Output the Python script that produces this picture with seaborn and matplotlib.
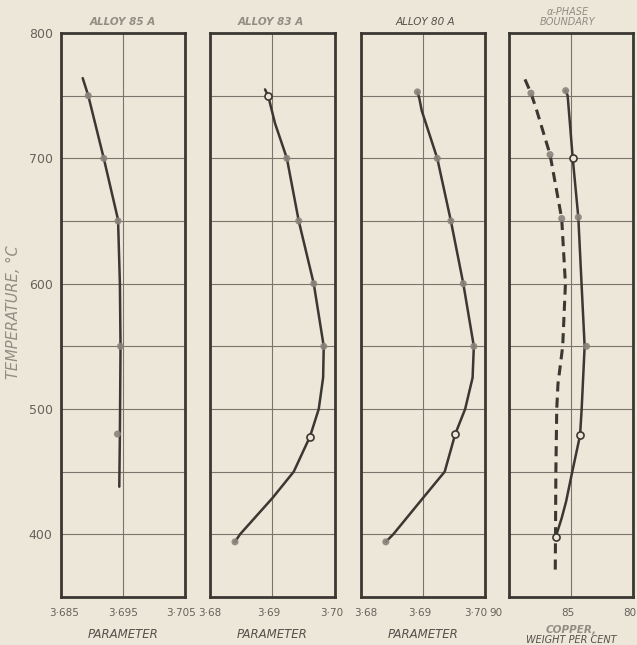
import matplotlib
matplotlib.use("Agg")
import matplotlib.pyplot as plt
import seaborn as sns
import pandas as pd
from matplotlib.transforms import ScaledTranslation

# ---------------- data ----------------
# Alloy 85 A : temperature (deg C) vs lattice parameter
a85_temp = [764, 750, 700, 651, 600, 550, 480, 438]
a85_par = [3.6885, 3.6894, 3.6919, 3.6942, 3.6945, 3.6946, 3.6945, 3.6944]
a85_pt_temp = [750, 700, 650, 550, 480]
a85_pt_par = [3.6894, 3.6919, 3.6942, 3.6946, 3.6941]

# Alloy 83 A
a83_temp = [755, 750, 728, 700, 650, 600, 550, 525, 500, 478, 450, 429, 400, 394]
a83_par = [3.6888, 3.6893, 3.6904, 3.6923, 3.6942, 3.6966, 3.6982, 3.6981,
           3.6974, 3.6960, 3.6934, 3.6900, 3.6848, 3.6840]
a83_pt_temp = [700, 650, 600, 550, 394]
a83_pt_par = [3.6923, 3.6942, 3.6966, 3.6982, 3.6840]
a83_open_temp = [750, 478]
a83_open_par = [3.6893, 3.6960]

# Alloy 80 A
a80_temp = [753, 748, 738, 700, 650, 600, 550, 525, 500, 480, 450, 429, 400, 394]
a80_par = [3.6891, 3.6894, 3.6898, 3.6923, 3.6945, 3.6965, 3.6982, 3.6980,
           3.6968, 3.6952, 3.6935, 3.6900, 3.6852, 3.6840]
a80_pt_temp = [753, 700, 650, 600, 550, 394]
a80_pt_par = [3.6891, 3.6923, 3.6945, 3.6965, 3.6982, 3.6840]
a80_open_temp = [480]
a80_open_par = [3.6952]

# alpha-phase boundary : copper weight per cent
bnd_solid_temp = [754, 750, 700, 653, 600, 550, 500, 479, 448, 426, 413, 398]
bnd_solid_cu = [85.43, 85.27, 84.86, 84.41, 84.15, 83.90, 84.14, 84.27,
                84.94, 85.40, 85.75, 86.23]
bnd_dash_temp = [763, 752, 740, 703, 652, 600, 550, 520, 500, 450, 400, 370]
bnd_dash_cu = [88.71, 88.23, 87.82, 86.69, 85.75, 85.45, 85.67, 86.05,
               86.15, 86.22, 86.25, 86.27]
bnd_pt_temp = [754, 653, 550, 752, 703, 652]
bnd_pt_cu = [85.43, 84.41, 83.75, 88.23, 86.69, 85.75]
bnd_open_temp = [700, 479, 398]
bnd_open_cu = [84.86, 84.27, 86.23]

titles = ["ALLOY 85 A", "ALLOY 83 A", "ALLOY 80 A", "\u03b1-PHASE\nBOUNDARY"]
x_ticks = [[3.685, 3.695, 3.705], [3.68, 3.69, 3.70], [3.68, 3.69, 3.70], [90, 85, 80]]
x_ticklabels = [["3\u00b7685", "3\u00b7695", "3\u00b7705"],
                ["3\u00b768", "3\u00b769", "3\u00b770"],
                ["3\u00b768", "3\u00b769", "3\u00b770"],
                ["90", "85", "80"]]
x_limits = [(3.685, 3.705), (3.68, 3.70), (3.68, 3.70), (90, 80)]
y_ticks = [400, 500, 600, 700, 800]
y_minor = [450, 550, 650, 750]

# ---------------- style ----------------
sns.set_style("white")
plt.rcParams["font.family"] = ["DejaVu Sans"]

BG = "#ece7d8"
INK = "#3b3732"
GRID = "#7a756c"
TICK = "#66615a"
FAINT = "#928d83"

W, H = 637, 645
fig = plt.figure(figsize=(W / 100, H / 100), dpi=100, facecolor=BG)

lefts = [61, 210, 361, 509]
widths = [124, 125, 124, 124]
top_px, bot_px = 33, 597
# horizontal pixel nudges for the x tick labels (layout only)
label_shift = [[3, 0, -4], [0, -4, -3], [5, -3, -9], [-13, -3, -3]]


def fpos(x, y):
    return x / W, 1 - y / H


series = [
    [(a85_par, a85_temp, "-")],
    [(a83_par, a83_temp, "-")],
    [(a80_par, a80_temp, "-")],
    [(bnd_solid_cu, bnd_solid_temp, "-"), (bnd_dash_cu, bnd_dash_temp, "--")],
]
blobs = [(a85_pt_par, a85_pt_temp), (a83_pt_par, a83_pt_temp),
         (a80_pt_par, a80_pt_temp), (bnd_pt_cu, bnd_pt_temp)]
opens = [([], []), (a83_open_par, a83_open_temp),
         (a80_open_par, a80_open_temp), (bnd_open_cu, bnd_open_temp)]

for i in range(4):
    rect = [lefts[i] / W, 1 - bot_px / H, widths[i] / W, (bot_px - top_px) / H]
    ax = fig.add_axes(rect, facecolor=BG)

    for xs, ys, kind in series[i]:
        df = pd.DataFrame({"value": xs, "temp": ys})
        if kind == "-":
            sns.lineplot(data=df, x="value", y="temp", sort=False, estimator=None,
                         color=INK, lw=1.8, ax=ax, zorder=4)
        else:
            sns.lineplot(data=df, x="value", y="temp", sort=False, estimator=None,
                         color=INK, lw=2.2, linestyle=(0, (3.3, 2.0)), ax=ax, zorder=4)

    bx, by = blobs[i]
    if bx:
        sns.scatterplot(x=bx, y=by, s=26, color="#8a857c", edgecolor="none",
                        alpha=0.9, ax=ax, zorder=5)
    ox, oy = opens[i]
    if ox:
        sns.scatterplot(x=ox, y=oy, s=26, marker="o", facecolor=BG,
                        edgecolor=INK, linewidth=1.2, ax=ax, zorder=6)

    ax.set_xlim(*x_limits[i])
    ax.set_ylim(350, 800)
    ax.set_xlabel("")
    ax.set_ylabel("")

    ax.set_yticks(y_ticks)
    ax.set_yticks(y_minor, minor=True)
    ax.set_xticks(x_ticks[i])
    ax.set_xticklabels(x_ticklabels[i])
    ax.grid(True, which="both", axis="y", color=GRID, lw=0.8)
    ax.grid(True, which="major", axis="x", color=GRID, lw=0.8)
    ax.set_axisbelow(True)
    ax.tick_params(which="both", length=0)
    ax.tick_params(axis="x", pad=8, labelsize=7.5, labelcolor=TICK)
    ax.tick_params(axis="y", pad=6, labelsize=9, labelcolor=TICK)
    if i > 0:
        ax.set_yticklabels([])

    for lab, dx in zip(ax.get_xticklabels(), label_shift[i]):
        lab.set_transform(lab.get_transform() +
                          ScaledTranslation(dx / 100, 0, fig.dpi_scale_trans))

    for sp in ax.spines.values():
        sp.set_visible(True)
        sp.set_color(INK)
        sp.set_linewidth(2.0)

# ---------------- titles and labels ----------------
centres = [123, 272, 423, 571]
fig.text(*fpos(123, 22), titles[0], ha="center", va="center", fontsize=7.5,
         fontstyle="italic", fontweight="bold", color=FAINT)
fig.text(*fpos(271, 22), titles[1], ha="center", va="center", fontsize=7.5,
         fontstyle="italic", fontweight="bold", color=FAINT)
fig.text(*fpos(425, 22), titles[2], ha="center", va="center", fontsize=7.5,
         fontstyle="italic", color="#55504a")
fig.text(*fpos(568, 17), titles[3], ha="center", va="center", fontsize=7,
         fontstyle="italic", color=FAINT, linespacing=0.95)

for c in centres[:3]:
    fig.text(*fpos(c, 634), "PARAMETER", ha="center", va="center", fontsize=8.5,
             fontstyle="italic", color="#55504a")
fig.text(*fpos(571, 630), "COPPER,", ha="center", va="center", fontsize=7.5,
         fontstyle="italic", fontweight="bold", color=FAINT)
fig.text(*fpos(571, 640), "WEIGHT PER CENT", ha="center", va="center", fontsize=7,
         fontstyle="italic", color="#55504a")
fig.text(*fpos(14, 312), "TEMPERATURE, \u00b0C", ha="center", va="center",
         rotation=90, fontsize=10.5, fontstyle="italic", color=FAINT)

fig.savefig("out.png", dpi=100, facecolor=BG)
